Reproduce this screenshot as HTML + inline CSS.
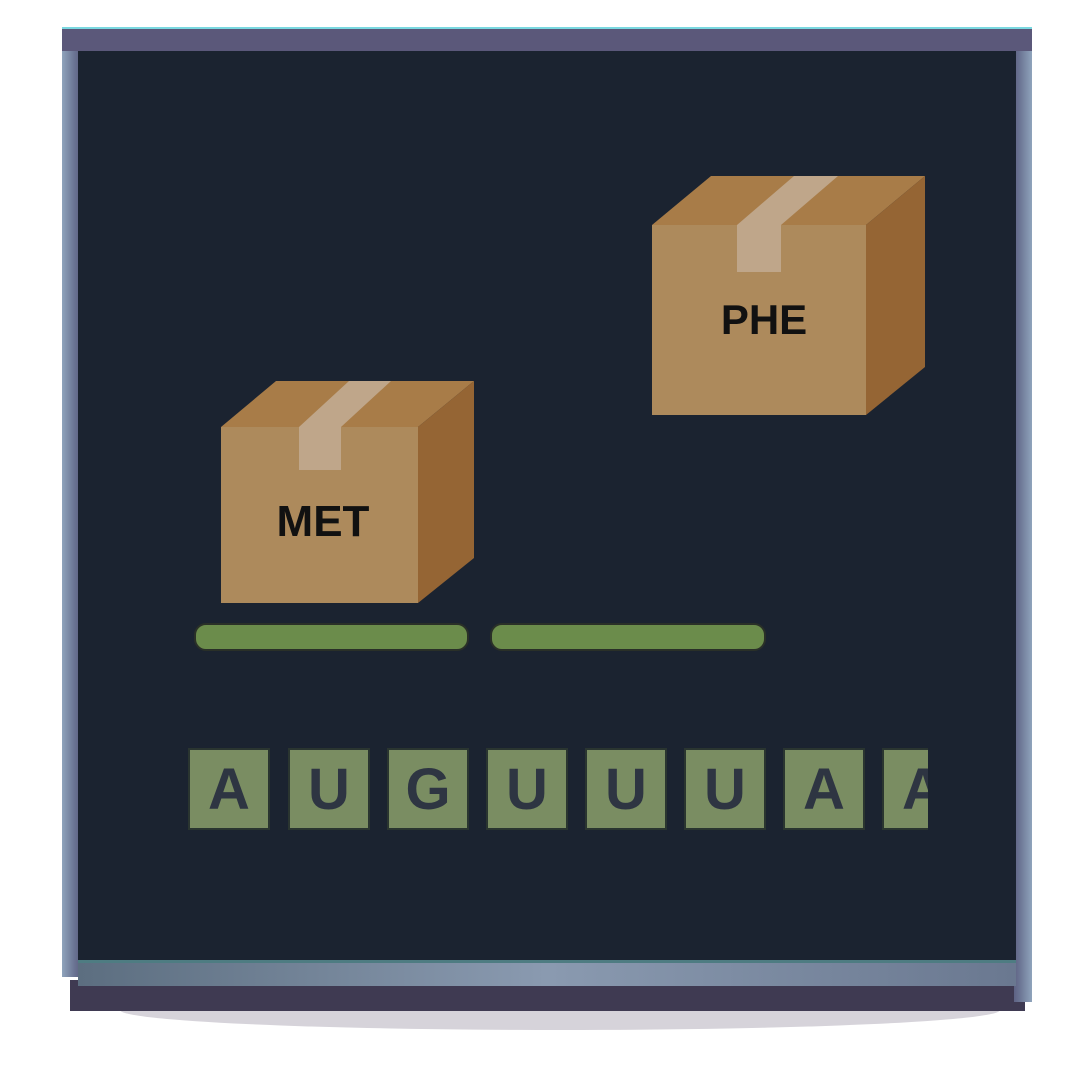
<!DOCTYPE html>
<html><head><meta charset="utf-8"><style>
body{margin:0;width:1080px;height:1080px;background:#fff;position:relative;overflow:hidden;font-family:"Liberation Sans",sans-serif}
.a{position:absolute}
.tile{position:absolute;top:748px;width:82px;height:82px;background:#7a8d62;border:2px solid #2a3530;box-sizing:border-box;color:#2e3542;font-weight:bold;font-size:58px;text-align:center;line-height:80px}
</style></head><body>
<div class="a" style="left:120px;top:990px;width:880px;height:40px;background:#d6d3da;border-radius:0 0 50% 50%"></div>
<div class="a" style="left:70px;top:980px;width:955px;height:31px;background:#3f3a52"></div>
<div class="a" style="left:62px;top:27px;width:18px;height:950px;background:linear-gradient(90deg,#8fa4bc,#6a7392 70%,#5e6284)"></div>
<div class="a" style="left:1014px;top:27px;width:18px;height:975px;background:linear-gradient(90deg,#5e6284,#6a7392 30%,#8fa4bc)"></div>
<div class="a" style="left:62px;top:27px;width:970px;height:24px;background:#5b587a;border-top:2px solid #7ad8e0;box-sizing:border-box"></div>
<div class="a" style="left:78px;top:51px;width:938px;height:910px;background:#1b2330"></div>
<div class="a" style="left:78px;top:960px;width:938px;height:26px;background:linear-gradient(90deg,#5c6e80,#8a9ab0 50%,#6a7890);border-top:3px solid #4e7c82;box-sizing:border-box"></div>
<svg class="a" style="left:0;top:0" width="1080" height="1080">
<g>
<polygon points="221,427 276,381 474,381 418,427" fill="#a87c48"/>
<polygon points="418,427 474,381 474,558 418,603" fill="#956534"/>
<rect x="221" y="427" width="197" height="176" fill="#ad8a5c"/>
<polygon points="299,427 341,427 391,381 349,381" fill="#bfa68a"/>
<rect x="299" y="427" width="42" height="43" fill="#bfa68a"/>
<text x="323" y="536" font-size="44" font-weight="bold" text-anchor="middle" fill="#111" font-family="Liberation Sans,sans-serif">MET</text>
</g>
<g>
<polygon points="652,225 711,176 925,176 866,225" fill="#a87c48"/>
<polygon points="866,225 925,176 925,367 866,415" fill="#956534"/>
<rect x="652" y="225" width="214" height="190" fill="#ad8a5c"/>
<polygon points="737,225 781,225 838,176 794,176" fill="#bfa68a"/>
<rect x="737" y="225" width="44" height="47" fill="#bfa68a"/>
<text x="764" y="334" font-size="42" font-weight="bold" text-anchor="middle" fill="#111" font-family="Liberation Sans,sans-serif">PHE</text>
</g>
<rect x="195" y="624" width="273" height="26" rx="11" fill="#6b8c4b" stroke="#2a3028" stroke-width="2"/>
<rect x="491" y="624" width="274" height="26" rx="11" fill="#6b8c4b" stroke="#2a3028" stroke-width="2"/>
</svg>
<div class="a" style="left:0;top:0;width:928px;height:1080px;overflow:hidden">
<div class="tile" style="left:188px">A</div>
<div class="tile" style="left:288px">U</div>
<div class="tile" style="left:387px">G</div>
<div class="tile" style="left:486px">U</div>
<div class="tile" style="left:585px">U</div>
<div class="tile" style="left:684px">U</div>
<div class="tile" style="left:783px">A</div>
<div class="tile" style="left:882px">A</div>
</div>
</body></html>
